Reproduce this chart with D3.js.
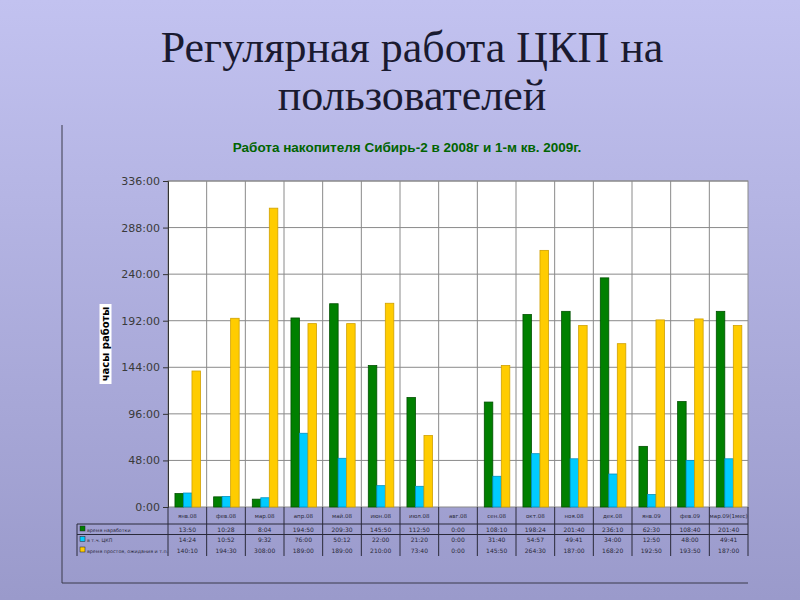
<!DOCTYPE html>
<html>
<head>
<meta charset="utf-8">
<script src="https://cdn.jsdelivr.net/npm/d3@7"></script>
<style>
  body { margin: 0; }
  svg { display: block; }
</style>
</head>
<body>
<svg id="chart"></svg>
<script>
// data (hours, written h:mm like the source table)
const categories = ["янв.08", "фев.08", "мар.08", "апр.08", "май.08", "июн.08", "июл.08", "авг.08",
  "сен.08", "окт.08", "ноя.08", "дек.08", "янв.09", "фев.09", "мар.09(1мес)"];
const seriesNames = ["время наработки", "в т.ч. ЦКП", "время простоя, ожидания и т.п."];
const workTime = ["13:50", "10:28", "8:04", "194:50", "209:30", "145:50", "112:50", "0:00",
  "108:10", "198:24", "201:40", "236:10", "62:30", "108:40", "201:40"];
const ckpTime = ["14:24", "10:52", "9:32", "76:00", "50:12", "22:00", "21:20", "0:00",
  "31:40", "54:57", "49:41", "34:00", "12:50", "48:00", "49:41"];
const idleTime = ["140:10", "194:30", "308:00", "189:00", "189:00", "210:00", "73:40", "0:00",
  "145:50", "264:30", "187:00", "168:20", "192:50", "193:50", "187:00"];
const yTicks = [0, 48, 96, 144, 192, 240, 288, 336];

const colors = ["#008000", "#00ccff", "#ffcc00"];
const strokes = ["#005000", "#0090c0", "#d0a000"];

const toHours = s => { const [h, m] = s.split(":").map(Number); return h + m / 60; };
const fmt = v => Math.floor(v) + ":" + String(Math.round((v % 1) * 60)).padStart(2, "0");

const series = [workTime, ckpTime, idleTime];
const rows = categories.map((c, i) => ({ cat: c, values: series.map(s => toHours(s[i])) }));

const W = 800, H = 600;
const svg = d3.select("#chart").attr("width", W).attr("height", H);

// slide background
const grad = svg.append("defs").append("linearGradient")
  .attr("id", "bg").attr("x1", 0).attr("y1", 0).attr("x2", 0).attr("y2", 1);
grad.append("stop").attr("offset", "0%").attr("stop-color", "#c2c2f0");
grad.append("stop").attr("offset", "100%").attr("stop-color", "#9a9acb");
svg.append("rect").attr("width", W).attr("height", H).attr("fill", "url(#bg)");

// slide title
svg.append("text")
  .attr("x", 412).attr("text-anchor", "middle")
  .style("font-family", "Liberation Serif, serif")
  .style("font-size", "44px")
  .attr("fill", "#1a1a30")
  .selectAll("tspan")
  .data(["Регулярная работа ЦКП на", "пользователей"])
  .enter().append("tspan")
  .attr("x", 412).attr("y", (d, i) => 62 + i * 48)
  .text(d => d);

// chart frame (left and bottom edge)
svg.append("path")
  .attr("d", "M62,125 V583 H748")
  .attr("fill", "none").attr("stroke", "#3a3a4a").attr("stroke-width", 1);

svg.append("text")
  .attr("x", 407).attr("y", 152).attr("text-anchor", "middle")
  .style("font-family", "Liberation Sans, sans-serif")
  .style("font-size", "13.5px").style("font-weight", "bold")
  .attr("fill", "#006400")
  .text("Работа накопителя Сибирь-2 в 2008г и 1-м кв. 2009г.");

const plotL = 168, plotR = 748, plotT = 181, plotB = 507;

const x0 = d3.scaleBand().domain(categories).range([plotL, plotR]).padding(0);
const x1 = d3.scaleBand().domain(d3.range(3))
  .range([x0.bandwidth() * 0.18, x0.bandwidth() * 0.84]).padding(0);
const y = d3.scaleLinear().domain([0, 336]).range([plotB, plotT]);

svg.append("rect")
  .attr("x", plotL).attr("y", plotT).attr("width", plotR - plotL).attr("height", plotB - plotT)
  .attr("fill", "#fff");

// gridlines
svg.append("g").selectAll("line").data(yTicks.slice(1)).enter().append("line")
  .attr("x1", plotL).attr("x2", plotR).attr("y1", d => y(d)).attr("y2", d => y(d))
  .attr("stroke", "#8a8a8a");
svg.append("g").selectAll("line").data(categories.slice(1)).enter().append("line")
  .attr("x1", d => x0(d)).attr("x2", d => x0(d)).attr("y1", plotT).attr("y2", plotB)
  .attr("stroke", "#8a8a8a");
svg.append("rect")
  .attr("x", plotL).attr("y", plotT).attr("width", plotR - plotL).attr("height", plotB - plotT)
  .attr("fill", "none").attr("stroke", "#8a8a8a");

// bars
const groups = svg.append("g").selectAll("g").data(rows).enter().append("g")
  .attr("transform", d => `translate(${x0(d.cat)},0)`);
groups.selectAll("rect").data(d => d.values.map((v, k) => ({ v, k }))).enter().append("rect")
  .filter(d => d.v > 0)
  .attr("x", d => x1(d.k)).attr("width", x1.bandwidth())
  .attr("y", d => y(d.v)).attr("height", d => plotB - y(d.v))
  .attr("fill", d => colors[d.k]).attr("stroke", d => strokes[d.k]).attr("stroke-width", 0.8);

// y axis
const yAxis = svg.append("g").attr("transform", `translate(${plotL},0)`)
  .call(d3.axisLeft(y).tickValues(yTicks).tickFormat(d => d + ":00").tickSize(5).tickPadding(3));
yAxis.select(".domain").attr("stroke", "#333");
yAxis.selectAll(".tick line").attr("stroke", "#333");
yAxis.selectAll("text")
  .style("font-family", "DejaVu Sans, sans-serif").style("font-size", "11px")
  .attr("fill", "#3a3a3a");

// y title in white box
const yt = svg.append("g").attr("transform", "translate(105.5,344) rotate(-90)");
yt.append("rect").attr("x", -40).attr("y", -6).attr("width", 80).attr("height", 12).attr("fill", "#fff");
yt.append("text").attr("text-anchor", "middle").attr("dy", "0.35em")
  .style("font-family", "DejaVu Sans, sans-serif").style("font-size", "10px").style("font-weight", "bold")
  .attr("fill", "#000").text("часы работы");

// data table under the plot
const catRow = 524, rowH = 10.5, tableBottom = 556, tableLeft = 77;
const tbl = svg.append("g");
tbl.selectAll(".vline").data(categories.concat([null])).enter().append("line")
  .attr("x1", d => d ? x0(d) : plotR).attr("x2", d => d ? x0(d) : plotR)
  .attr("y1", plotB).attr("y2", tableBottom)
  .attr("stroke", "#2a2a3a");
tbl.append("line").attr("x1", tableLeft).attr("x2", tableLeft).attr("y1", catRow).attr("y2", tableBottom)
  .attr("stroke", "#2a2a3a");
[catRow, catRow + rowH].forEach(yy => {
  tbl.append("line").attr("x1", tableLeft).attr("x2", plotR).attr("y1", yy).attr("y2", yy)
    .attr("stroke", "#2a2a3a");
});

const small = (sel, size) => sel.style("font-family", "DejaVu Sans, sans-serif")
  .style("font-size", (size || 6) + "px").attr("fill", "#2a2a3a");

tbl.selectAll(".cat").data(categories).enter().append("text")
  .attr("x", d => x0(d) + x0.bandwidth() / 2).attr("y", 518).attr("text-anchor", "middle")
  .text(d => d).call(small, 5.5);

series.forEach((s, k) => {
  const yy = catRow + rowH * k + 7.5;
  tbl.append("rect").attr("x", tableLeft + 3).attr("y", yy - 5.5).attr("width", 5).attr("height", 5)
    .attr("fill", colors[k]).attr("stroke", "#222").attr("stroke-width", 0.5);
  tbl.append("text").attr("x", tableLeft + 10).attr("y", yy).text(seriesNames[k]).call(small, 4.8);
  tbl.selectAll(".v" + k).data(categories).enter().append("text")
    .attr("x", d => x0(d) + x0.bandwidth() / 2).attr("y", yy).attr("text-anchor", "middle")
    .text((d, i) => fmt(toHours(s[i]))).call(small);
});
</script>
</body>
</html>
